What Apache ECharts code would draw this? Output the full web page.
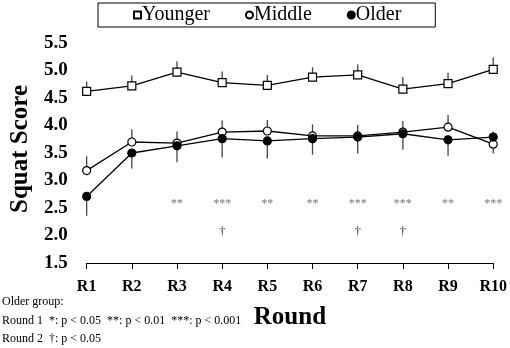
<!DOCTYPE html>
<html lang="en">
<head>
    <meta charset="utf-8">
    <title>squat score</title>
    <script src="https://cdn.jsdelivr.net/npm/echarts@6/dist/echarts.min.js"></script>
    <style>
        html, body { margin: 0; padding: 0; background: #fff; }
        #chart { width: 510px; height: 348px; }
    </style>
</head>
<body>
<div id="chart"></div>
<script>
    // data
    var rounds = ['R1', 'R2', 'R3', 'R4', 'R5', 'R6', 'R7', 'R8', 'R9', 'R10'];
    var younger = [4.62, 4.72, 4.97, 4.78, 4.73, 4.88, 4.92, 4.66, 4.76, 5.02];
    var middle = [3.18, 3.70, 3.68, 3.88, 3.90, 3.81, 3.81, 3.88, 3.97, 3.66];
    var older = [2.71, 3.50, 3.63, 3.76, 3.72, 3.76, 3.79, 3.85, 3.74, 3.79];
    // one sided error bars (SD), sign = direction drawn
    var youngerErr = [0.18, 0.19, 0.20, 0.20, 0.19, 0.18, 0.19, 0.22, 0.20, 0.22];
    var middleErr = [0.26, 0.23, 0.21, 0.21, 0.20, 0.21, 0.20, 0.20, 0.22, -0.17];
    var olderErr = [-0.35, -0.28, -0.30, -0.34, -0.32, -0.29, -0.30, -0.29, -0.29, 0.10];
    var sigRound1 = ['', '', '**', '***', '**', '**', '***', '***', '**', '***'];
    var sigRound2 = ['', '', '', '\u2020', '', '', '\u2020', '\u2020', '', ''];
    var yTicks = ['1.5', '2.0', '2.5', '3.0', '3.5', '4.0', '4.5', '5.0', '5.5'];

    var serif = 'Liberation Serif';

    function errData(vals, errs) {
        return vals.map(function (v, i) { return [i, v, errs[i]]; });
    }
    function errSeries(vals, errs) {
        return {
            type: 'custom',
            data: errData(vals, errs),
            z: 1,
            silent: true,
            renderItem: function (params, api) {
                var x = api.value(0), v = api.value(1), e = api.value(2);
                var p1 = api.coord([x, v]);
                var p2 = api.coord([x, v + e]);
                return {
                    type: 'line',
                    shape: { x1: p1[0], y1: p1[1], x2: p2[0], y2: p2[1] },
                    style: { stroke: '#444', lineWidth: 1.3 }
                };
            }
        };
    }
    function lineSeries(name, vals, symbol, fill) {
        return {
            name: name,
            type: 'line',
            data: vals,
            symbol: symbol,
            symbolSize: 8,
            z: 3,
            lineStyle: { color: '#000', width: 1.3 },
            itemStyle: { color: fill, borderColor: '#000', borderWidth: 1.2 }
        };
    }
    function sigSeries(marks, y, size, color) {
        var d = [];
        marks.forEach(function (m, i) {
            if (m) d.push({ value: [i, y], label: { formatter: m } });
        });
        return {
            type: 'scatter',
            data: d,
            symbolSize: 0,
            silent: true,
            label: {
                show: true,
                position: 'inside',
                fontFamily: serif,
                fontSize: size,
                color: color
            }
        };
    }

    var chart = echarts.init(document.getElementById('chart'));
    chart.setOption({
        animation: false,
        grid: { left: 86, right: 12, top: 43, bottom: 85 },
        legend: {
            data: [
                { name: 'Younger', icon: 'rect' },
                { name: 'Middle', icon: 'circle' },
                { name: 'Older', icon: 'circle' }
            ],
            left: 98,
            top: 3,
            padding: [2, 34, 2, 35],
            itemGap: 35,
            itemWidth: 7,
            itemHeight: 7,
            borderColor: '#000',
            borderWidth: 1,
            textStyle: { fontFamily: serif, fontSize: 20, color: '#000', padding: [0, 0, 0, -4] }
        },
        xAxis: {
            type: 'category',
            data: rounds,
            boundaryGap: false,
            name: 'Round',
            nameLocation: 'middle',
            nameGap: 42,
            nameTextStyle: { fontFamily: serif, fontSize: 25, fontWeight: 'bold', color: '#000' },
            axisLine: { lineStyle: { color: '#000', width: 1 } },
            axisTick: { length: 6, lineStyle: { color: '#000' } },
            axisLabel: { margin: 16, fontFamily: serif, fontSize: 16, fontWeight: 'bold', color: '#000' }
        },
        yAxis: {
            type: 'value',
            min: 1.5,
            max: 5.5,
            interval: 0.5,
            name: 'Squat Score',
            nameLocation: 'middle',
            nameGap: 52,
            nameTextStyle: { fontFamily: serif, fontSize: 25, fontWeight: 'bold', color: '#000', padding: [0, 0, 0, 8] },
            axisLine: { show: false },
            axisTick: { show: false },
            splitLine: { show: false },
            axisLabel: {
                margin: 19,
                fontFamily: serif,
                fontSize: 19,
                fontWeight: 'bold',
                color: '#000',
                formatter: function (v) { return yTicks[Math.round((v - 1.5) / 0.5)]; }
            }
        },
        series: [
            errSeries(younger, youngerErr),
            errSeries(middle, middleErr),
            errSeries(older, olderErr),
            lineSeries('Younger', younger, 'rect', '#fff'),
            lineSeries('Middle', middle, 'circle', '#fff'),
            lineSeries('Older', older, 'circle', '#000'),
            sigSeries(sigRound1, 2.58, 12, '#555'),
            sigSeries(sigRound2, 2.08, 13, '#000')
        ],
        graphic: [
            { type: 'text', left: 2, top: 296, style: { text: 'Older group:', font: '12px "Liberation Serif"', fill: '#000' } },
            { type: 'text', left: 2, top: 315, style: { text: 'Round 1  *: p < 0.05  **: p < 0.01  ***: p < 0.001', font: '12px "Liberation Serif"', fill: '#000' } },
            { type: 'text', left: 2, top: 333, style: { text: 'Round 2  \u2020: p < 0.05', font: '12px "Liberation Serif"', fill: '#000' } }
        ]
    });
</script>
</body>
</html>
